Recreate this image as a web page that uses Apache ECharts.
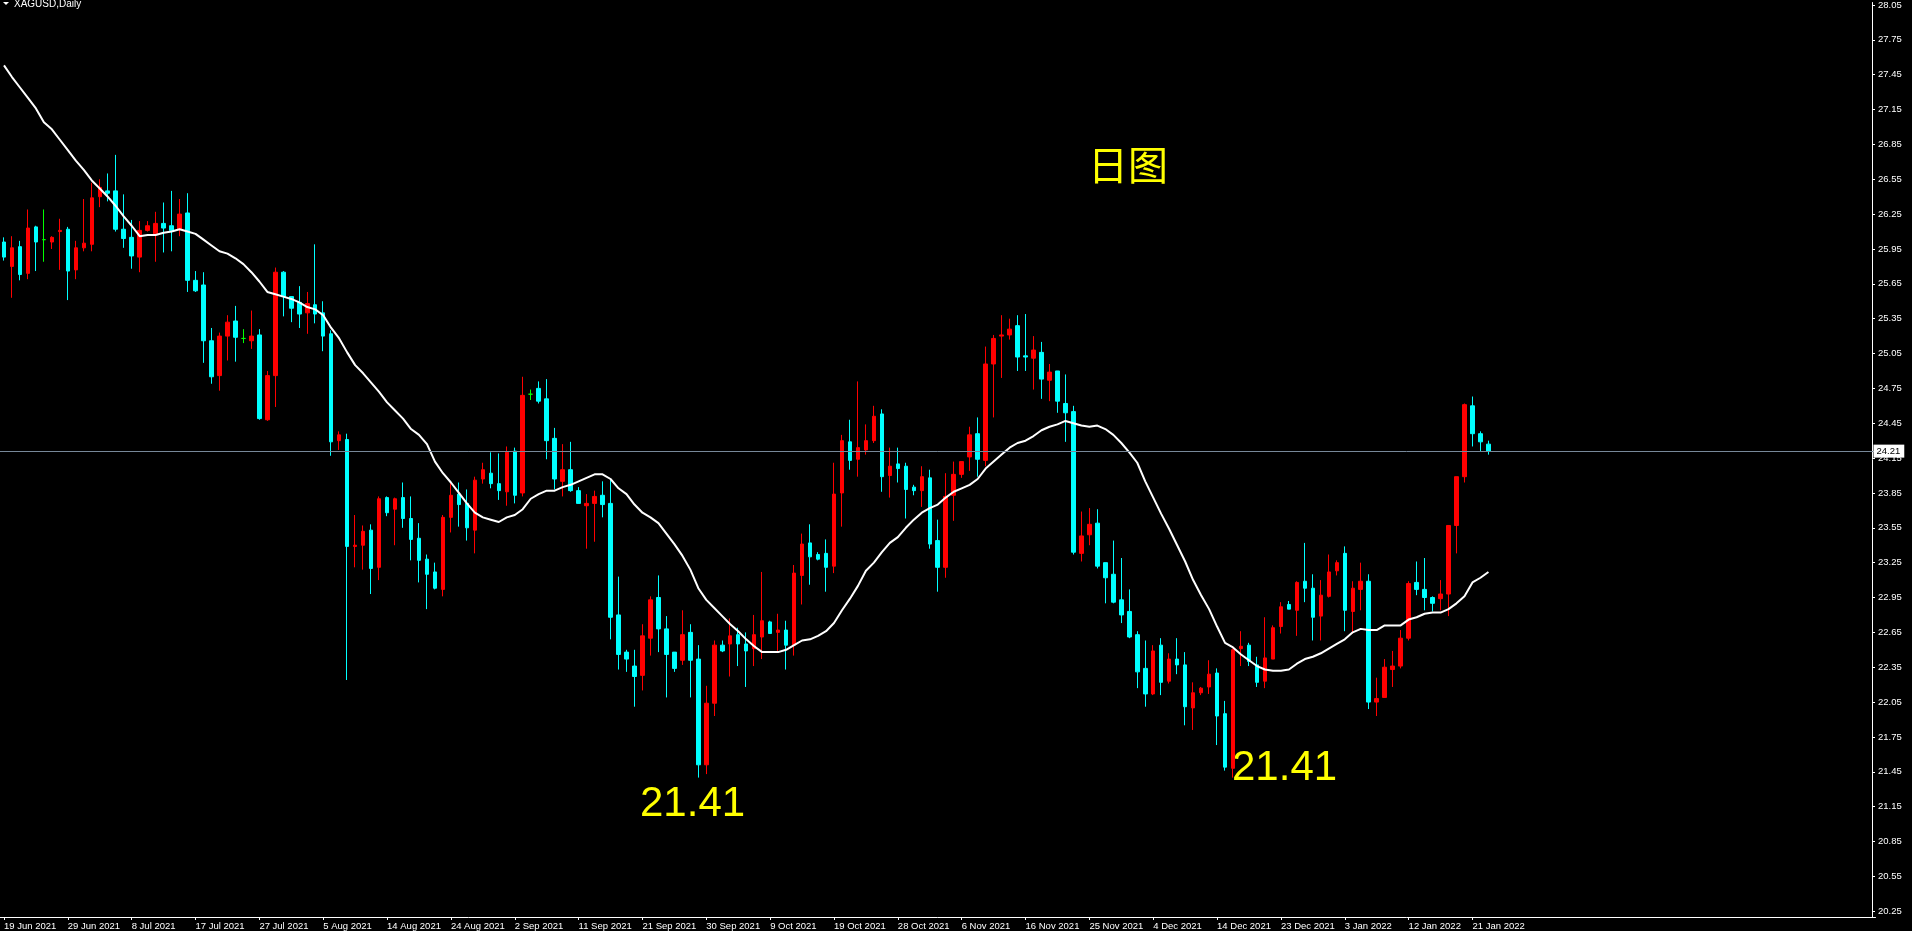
<!DOCTYPE html>
<html>
<head>
<meta charset="utf-8">
<script src="https://cdn.jsdelivr.net/npm/echarts@6/dist/echarts.min.js"></script>
<style>
html,body{margin:0;padding:0;background:#000;overflow:hidden;}
#c{width:1912px;height:931px;}
</style>
</head>
<body>
<div id="c"></div>
<script>
// ---- data (XAGUSD daily) ----
const dates = [
"19 Jun 2021","21 Jun 2021","22 Jun 2021","23 Jun 2021","24 Jun 2021","25 Jun 2021","26 Jun 2021","28 Jun 2021","29 Jun 2021","30 Jun 2021",
"1 Jul 2021","2 Jul 2021","3 Jul 2021","5 Jul 2021","6 Jul 2021","7 Jul 2021","8 Jul 2021","9 Jul 2021","10 Jul 2021","12 Jul 2021",
"13 Jul 2021","14 Jul 2021","15 Jul 2021","16 Jul 2021","17 Jul 2021","19 Jul 2021","20 Jul 2021","21 Jul 2021","22 Jul 2021","23 Jul 2021",
"24 Jul 2021","26 Jul 2021","27 Jul 2021","28 Jul 2021","29 Jul 2021","30 Jul 2021","31 Jul 2021","2 Aug 2021","3 Aug 2021","4 Aug 2021",
"5 Aug 2021","6 Aug 2021","7 Aug 2021","9 Aug 2021","10 Aug 2021","11 Aug 2021","12 Aug 2021","13 Aug 2021","14 Aug 2021","16 Aug 2021",
"17 Aug 2021","18 Aug 2021","19 Aug 2021","20 Aug 2021","21 Aug 2021","23 Aug 2021","24 Aug 2021","25 Aug 2021","26 Aug 2021","27 Aug 2021",
"28 Aug 2021","30 Aug 2021","31 Aug 2021","1 Sep 2021","2 Sep 2021","3 Sep 2021","4 Sep 2021","6 Sep 2021","7 Sep 2021","8 Sep 2021",
"9 Sep 2021","10 Sep 2021","11 Sep 2021","13 Sep 2021","14 Sep 2021","15 Sep 2021","16 Sep 2021","17 Sep 2021","18 Sep 2021","20 Sep 2021",
"21 Sep 2021","22 Sep 2021","23 Sep 2021","24 Sep 2021","25 Sep 2021","27 Sep 2021","28 Sep 2021","29 Sep 2021","30 Sep 2021","1 Oct 2021",
"2 Oct 2021","4 Oct 2021","5 Oct 2021","6 Oct 2021","7 Oct 2021","8 Oct 2021","9 Oct 2021","11 Oct 2021","12 Oct 2021","13 Oct 2021",
"14 Oct 2021","15 Oct 2021","16 Oct 2021","18 Oct 2021","19 Oct 2021","20 Oct 2021","21 Oct 2021","22 Oct 2021","23 Oct 2021","25 Oct 2021",
"26 Oct 2021","27 Oct 2021","28 Oct 2021","29 Oct 2021","30 Oct 2021","1 Nov 2021","2 Nov 2021","3 Nov 2021","4 Nov 2021","5 Nov 2021",
"6 Nov 2021","8 Nov 2021","9 Nov 2021","10 Nov 2021","11 Nov 2021","12 Nov 2021","13 Nov 2021","15 Nov 2021","16 Nov 2021","17 Nov 2021",
"18 Nov 2021","19 Nov 2021","20 Nov 2021","22 Nov 2021","23 Nov 2021","24 Nov 2021","25 Nov 2021","26 Nov 2021","27 Nov 2021","29 Nov 2021",
"30 Nov 2021","1 Dec 2021","2 Dec 2021","3 Dec 2021","4 Dec 2021","6 Dec 2021","7 Dec 2021","8 Dec 2021","9 Dec 2021","10 Dec 2021",
"11 Dec 2021","13 Dec 2021","14 Dec 2021","15 Dec 2021","16 Dec 2021","17 Dec 2021","18 Dec 2021","20 Dec 2021","21 Dec 2021","22 Dec 2021",
"23 Dec 2021","24 Dec 2021","27 Dec 2021","28 Dec 2021","29 Dec 2021","30 Dec 2021","31 Dec 2021","1 Jan 2022","3 Jan 2022","4 Jan 2022",
"5 Jan 2022","6 Jan 2022","7 Jan 2022","8 Jan 2022","10 Jan 2022","11 Jan 2022","12 Jan 2022","13 Jan 2022","14 Jan 2022","15 Jan 2022",
"17 Jan 2022","18 Jan 2022","19 Jan 2022","20 Jan 2022","21 Jan 2022","22 Jan 2022","24 Jan 2022"
];

const opens = [
26.01,25.80,25.97,25.74,26.14,26.03,26.01,26.10,26.12,25.77,
25.96,25.99,26.40,26.45,26.45,26.12,26.05,25.88,26.11,26.08,
26.17,26.15,26.12,26.26,25.68,25.64,25.16,24.86,25.20,25.33,
25.18,25.16,25.21,24.48,24.86,25.75,25.54,25.49,25.40,25.47,
25.40,25.22,24.30,24.31,23.39,23.40,23.53,23.21,23.81,23.71,
23.81,23.63,23.46,23.28,23.17,23.02,23.64,23.84,23.76,23.53,
23.97,24.02,23.93,23.86,24.21,23.85,24.70,24.75,24.66,24.32,
23.95,24.05,23.87,23.74,23.76,23.83,23.76,22.80,22.48,22.36,
22.28,22.60,22.95,22.68,22.48,22.41,22.65,22.42,21.51,22.04,
22.54,22.55,22.63,22.55,22.51,22.61,22.74,22.65,22.67,22.54,
23.14,23.42,23.32,23.33,23.22,23.85,24.29,24.14,24.22,24.30,
24.53,24.00,24.10,24.08,23.90,23.87,23.98,23.44,23.21,23.83,
24.01,24.16,24.36,24.13,24.96,25.20,25.21,25.29,25.03,25.01,
25.06,24.82,24.90,24.62,24.55,23.33,23.49,23.59,23.25,23.15,
22.93,22.83,22.63,22.34,22.12,22.54,22.23,22.42,22.37,22.00,
22.13,22.18,22.30,21.95,21.48,22.51,22.54,22.37,22.23,22.42,
22.70,22.89,22.84,23.09,23.03,22.79,22.96,23.18,23.33,22.83,
23.02,23.09,22.05,22.09,22.33,22.36,22.60,23.08,23.02,22.95,
22.94,22.98,23.57,23.99,24.60,24.36,24.27
];

const closes = [
25.88,25.96,25.73,26.13,26.01,26.03,26.05,26.11,25.76,25.96,
26.00,26.39,26.48,26.43,26.12,26.04,25.89,26.11,26.15,26.17,
26.13,26.11,26.25,25.68,25.59,25.16,24.85,25.20,25.32,25.19,
25.18,25.20,24.49,24.86,25.75,25.54,25.44,25.39,25.48,25.39,
25.20,24.29,24.35,23.39,23.40,23.52,23.20,23.80,23.68,23.80,
23.63,23.45,23.27,23.15,23.03,23.64,23.83,23.75,23.55,23.96,
24.05,23.93,23.87,24.20,23.83,24.69,24.70,24.64,24.30,23.97,
24.05,23.87,23.76,23.76,23.82,23.75,22.78,22.46,22.42,22.27,
22.62,22.93,22.68,22.46,22.34,22.63,22.41,21.51,22.04,22.54,
22.49,22.62,22.55,22.49,22.63,22.75,22.64,22.67,22.54,23.16,
23.41,23.30,23.28,23.21,23.84,24.30,24.13,24.24,24.30,24.51,
23.99,24.08,24.06,23.88,23.87,23.99,23.41,23.21,23.82,24.01,
24.12,24.35,24.14,24.96,25.18,25.21,25.26,25.02,25.02,25.08,
24.83,24.89,24.64,24.54,23.34,23.48,23.58,23.22,23.12,22.91,
22.80,22.61,22.31,22.12,22.49,22.22,22.42,22.37,22.01,22.13,
22.17,22.29,21.93,21.49,22.50,22.53,22.40,22.22,22.43,22.69,
22.87,22.85,23.08,23.03,22.78,22.97,23.17,23.25,22.84,23.03,
23.09,22.05,22.08,22.35,22.36,22.60,23.07,23.02,22.95,22.90,
22.98,23.57,23.99,24.61,24.36,24.29,24.21
];

const lows = [
25.85,25.53,25.68,25.69,25.76,25.84,25.95,25.77,25.51,25.69,
25.93,25.93,26.31,26.36,26.10,25.96,25.78,25.75,26.10,25.84,
25.92,25.93,26.06,25.58,25.58,24.97,24.79,24.73,24.99,24.98,
25.14,25.09,24.48,24.47,24.59,25.37,25.32,25.27,25.22,25.31,
25.07,24.17,24.22,22.24,23.21,23.19,22.98,23.10,23.65,23.40,
23.55,23.27,23.08,22.85,23.02,22.96,23.51,23.56,23.44,23.33,
23.93,23.89,23.79,23.74,23.76,23.82,24.65,24.62,24.14,23.88,
23.82,23.86,23.76,23.37,23.43,23.64,22.59,22.33,22.31,22.01,
22.15,22.45,22.48,22.09,22.31,22.37,22.09,21.40,21.43,21.93,
22.48,22.27,22.36,22.18,22.36,22.42,22.64,22.49,22.33,22.45,
22.89,23.06,23.27,23.00,23.16,23.56,24.05,23.99,24.18,24.28,
23.86,23.81,23.94,23.63,23.83,23.73,23.37,23.00,23.12,23.61,
23.98,24.04,23.99,24.08,24.50,24.84,25.17,24.90,24.90,24.74,
24.66,24.64,24.54,24.29,23.32,23.26,23.40,23.20,22.90,22.90,
22.73,22.60,22.17,22.01,22.11,22.11,22.21,22.29,21.85,21.81,
22.11,22.12,21.68,21.46,21.40,22.36,22.36,22.18,22.17,22.42,
22.64,22.85,22.62,22.91,22.58,22.58,22.95,23.14,22.66,22.64,
22.84,21.99,21.93,22.09,22.18,22.34,22.58,22.97,22.84,22.83,
22.84,22.79,23.33,23.94,24.25,24.21,24.18
];

const highs = [
26.05,26.06,26.02,26.29,26.15,26.29,26.06,26.21,26.14,26.02,
26.38,26.52,26.55,26.60,26.76,26.42,26.20,26.19,26.19,26.27,
26.35,26.45,26.38,26.43,25.76,25.75,25.27,25.23,25.38,25.46,
25.26,25.42,25.26,24.90,25.79,25.76,25.54,25.63,25.58,25.99,
25.50,25.25,24.38,24.36,23.66,23.57,23.58,23.82,23.82,23.81,
23.94,23.82,23.59,23.32,23.25,23.66,23.94,23.94,23.88,23.99,
24.11,24.20,24.19,24.25,24.24,24.85,24.74,24.81,24.83,24.41,
24.27,24.29,23.90,23.84,23.87,23.95,23.96,23.13,22.50,22.50,
22.72,22.96,23.14,22.79,22.48,22.84,22.72,22.54,22.19,22.58,
22.58,22.77,22.69,22.65,22.80,23.17,22.75,22.81,22.75,23.23,
23.50,23.58,23.34,23.45,24.11,24.35,24.48,24.81,24.44,24.60,
24.57,24.24,24.24,24.11,23.92,24.08,24.05,23.62,24.02,24.12,
24.12,24.42,24.50,25.11,25.21,25.38,25.35,25.38,25.39,25.20,
25.15,24.96,24.90,24.87,24.60,23.69,23.72,23.71,23.25,23.44,
23.29,23.02,22.66,22.58,22.54,22.60,22.47,22.60,22.48,22.22,
22.18,22.41,22.34,22.06,22.51,22.66,22.56,22.44,22.78,22.71,
22.91,22.92,23.09,23.42,23.15,23.10,23.32,23.27,23.39,23.09,
23.25,23.15,22.26,22.42,22.49,22.67,23.09,23.26,23.29,22.96,
23.10,23.57,23.99,24.62,24.68,24.38,24.30
];

// moving average line as drawn on the reference
const maLine = [
27.53,27.43,27.34,27.25,27.16,27.04,26.98,26.89,26.80,26.71,
26.63,26.54,26.47,26.40,26.32,26.23,26.15,26.06,26.07,26.07,
26.09,26.10,26.12,26.10,26.08,26.03,25.98,25.93,25.91,25.87,
25.82,25.75,25.67,25.58,25.56,25.54,25.52,25.49,25.45,25.43,
25.38,25.27,25.18,25.06,24.95,24.88,24.80,24.72,24.63,24.56,
24.49,24.40,24.35,24.27,24.12,24.02,23.94,23.85,23.76,23.68,
23.64,23.62,23.60,23.64,23.66,23.71,23.80,23.84,23.87,23.87,
23.90,23.92,23.95,23.98,24.01,24.01,23.97,23.89,23.84,23.75,
23.68,23.64,23.59,23.50,23.41,23.31,23.19,23.03,22.93,22.86,
22.79,22.72,22.66,22.59,22.53,22.48,22.48,22.48,22.50,22.54,
22.58,22.59,22.62,22.66,22.73,22.84,22.94,23.05,23.18,23.25,
23.34,23.42,23.47,23.55,23.62,23.68,23.72,23.75,23.81,23.86,
23.89,23.92,23.97,24.06,24.12,24.18,24.24,24.28,24.30,24.34,
24.39,24.42,24.44,24.47,24.45,24.43,24.42,24.43,24.40,24.35,
24.28,24.20,24.11,23.95,23.81,23.67,23.54,23.40,23.26,23.10,
22.97,22.85,22.70,22.56,22.52,22.46,22.41,22.36,22.33,22.32,
22.32,22.33,22.38,22.42,22.44,22.47,22.51,22.55,22.59,22.65,
22.68,22.67,22.67,22.71,22.71,22.71,22.76,22.78,22.81,22.82,
22.82,22.85,22.90,22.96,23.08,23.12,23.17
];

// price-axis tick labels
const yTicks = [20.25,20.55,20.85,21.15,21.45,21.75,22.05,22.35,22.65,22.95,23.25,23.55,23.85,24.15,
                24.45,24.75,25.05,25.35,25.65,25.95,26.25,26.55,26.85,27.15,27.45,27.75,28.05];

const symbolTitle = "XAGUSD,Daily";
const noteTitle = "日图";
const noteLow = "21.41";
const lastPrice = 24.21;

// ---- chart ----
const EMPTY_SLOTS = 48;     // empty space to the right of the last bar
const LABEL_EVERY = 8;
const AXIS_FONT = '"Liberation Sans",Arial,sans-serif';

const categories = dates.concat(new Array(EMPTY_SLOTS).fill(''));
const candles = dates.map((d, i) => [opens[i], closes[i], lows[i], highs[i]]);
const showIdx = (i) => i % LABEL_EVERY === 0 && i < dates.length;

const chart = echarts.init(document.getElementById('c'), null, {renderer: 'canvas'});

const option = {
  backgroundColor: '#000000',
  animation: false,
  grid: {left: -4.5, right: 36.5, top: 0, bottom: 14, containLabel: false},
  xAxis: {
    type: 'category',
    data: categories,
    boundaryGap: true,
    axisLine: {show: true, lineStyle: {color: '#ffffff', width: 1}},
    axisTick: {show: true, alignWithLabel: true, interval: (i) => showIdx(i), length: 3,
               lineStyle: {color: '#ffffff'}},
    axisLabel: {show: true, interval: (i) => showIdx(i), align: 'left', margin: 4,
                color: '#ffffff', fontSize: 9.5, fontFamily: AXIS_FONT, hideOverlap: false},
    splitLine: {show: false}
  },
  yAxis: {
    type: 'value',
    position: 'right',
    offset: -3.5,
    min: 20.20,
    max: 28.0715,
    axisLine: {show: true, lineStyle: {color: '#ffffff', width: 1}},
    axisTick: {show: true, customValues: yTicks, length: 3, lineStyle: {color: '#ffffff'}},
    axisLabel: {show: true, customValues: yTicks, formatter: (v) => v.toFixed(2), margin: 6,
                color: '#ffffff', fontSize: 9.5, fontFamily: AXIS_FONT},
    splitLine: {show: false}
  },
  series: [
    {
      type: 'candlestick',
      data: candles,
      barWidth: 4,
      clip: true,
      itemStyle: {
        color: '#ff0000', color0: '#00ffff',
        borderColor: '#ff0000', borderColor0: '#00ffff',
        borderColorDoji: '#00ff00', borderWidth: 1
      },
      emphasis: {disabled: true},
      markLine: {
        silent: true,
        animation: false,
        symbol: ['none', 'none'],
        lineStyle: {color: '#778899', width: 1, type: 'solid'},
        emphasis: {disabled: true},
        label: {show: true, position: 'end', distance: -2, formatter: lastPrice.toFixed(2),
                color: '#000000', backgroundColor: '#ffffff', padding: [2, 4, 1, 3],
                fontSize: 9.5, fontFamily: AXIS_FONT},
        data: [{yAxis: lastPrice}]
      }
    },
    {
      type: 'line',
      data: maLine,
      symbol: 'none',
      clip: true,
      z: 3,
      lineStyle: {color: '#ffffff', width: 2},
      emphasis: {disabled: true}
    }
  ],
  graphic: [
    {type: 'polygon', shape: {points: [[3, 2], [9, 2], [6, 5]]}, style: {fill: '#ffffff'}},
    {type: 'text', x: 14, y: -1,
     style: {text: symbolTitle, fill: '#ffffff', font: '10px "Liberation Sans", Arial, sans-serif',
             align: 'left', verticalAlign: 'top'}},
    {type: 'text', x: 1128, y: 165,
     style: {text: noteTitle, fill: '#ffff00', font: '40px "Noto Sans CJK SC", sans-serif',
             align: 'center', verticalAlign: 'middle'}},
    {type: 'text', x: 640, y: 804,
     style: {text: noteLow, fill: '#ffff00', font: '42px "Liberation Sans", Arial, sans-serif',
             align: 'left', verticalAlign: 'middle'}},
    {type: 'text', x: 1232, y: 768,
     style: {text: noteLow, fill: '#ffff00', font: '42px "Liberation Sans", Arial, sans-serif',
             align: 'left', verticalAlign: 'middle'}}
  ]
};

chart.setOption(option);
</script>
</body>
</html>
